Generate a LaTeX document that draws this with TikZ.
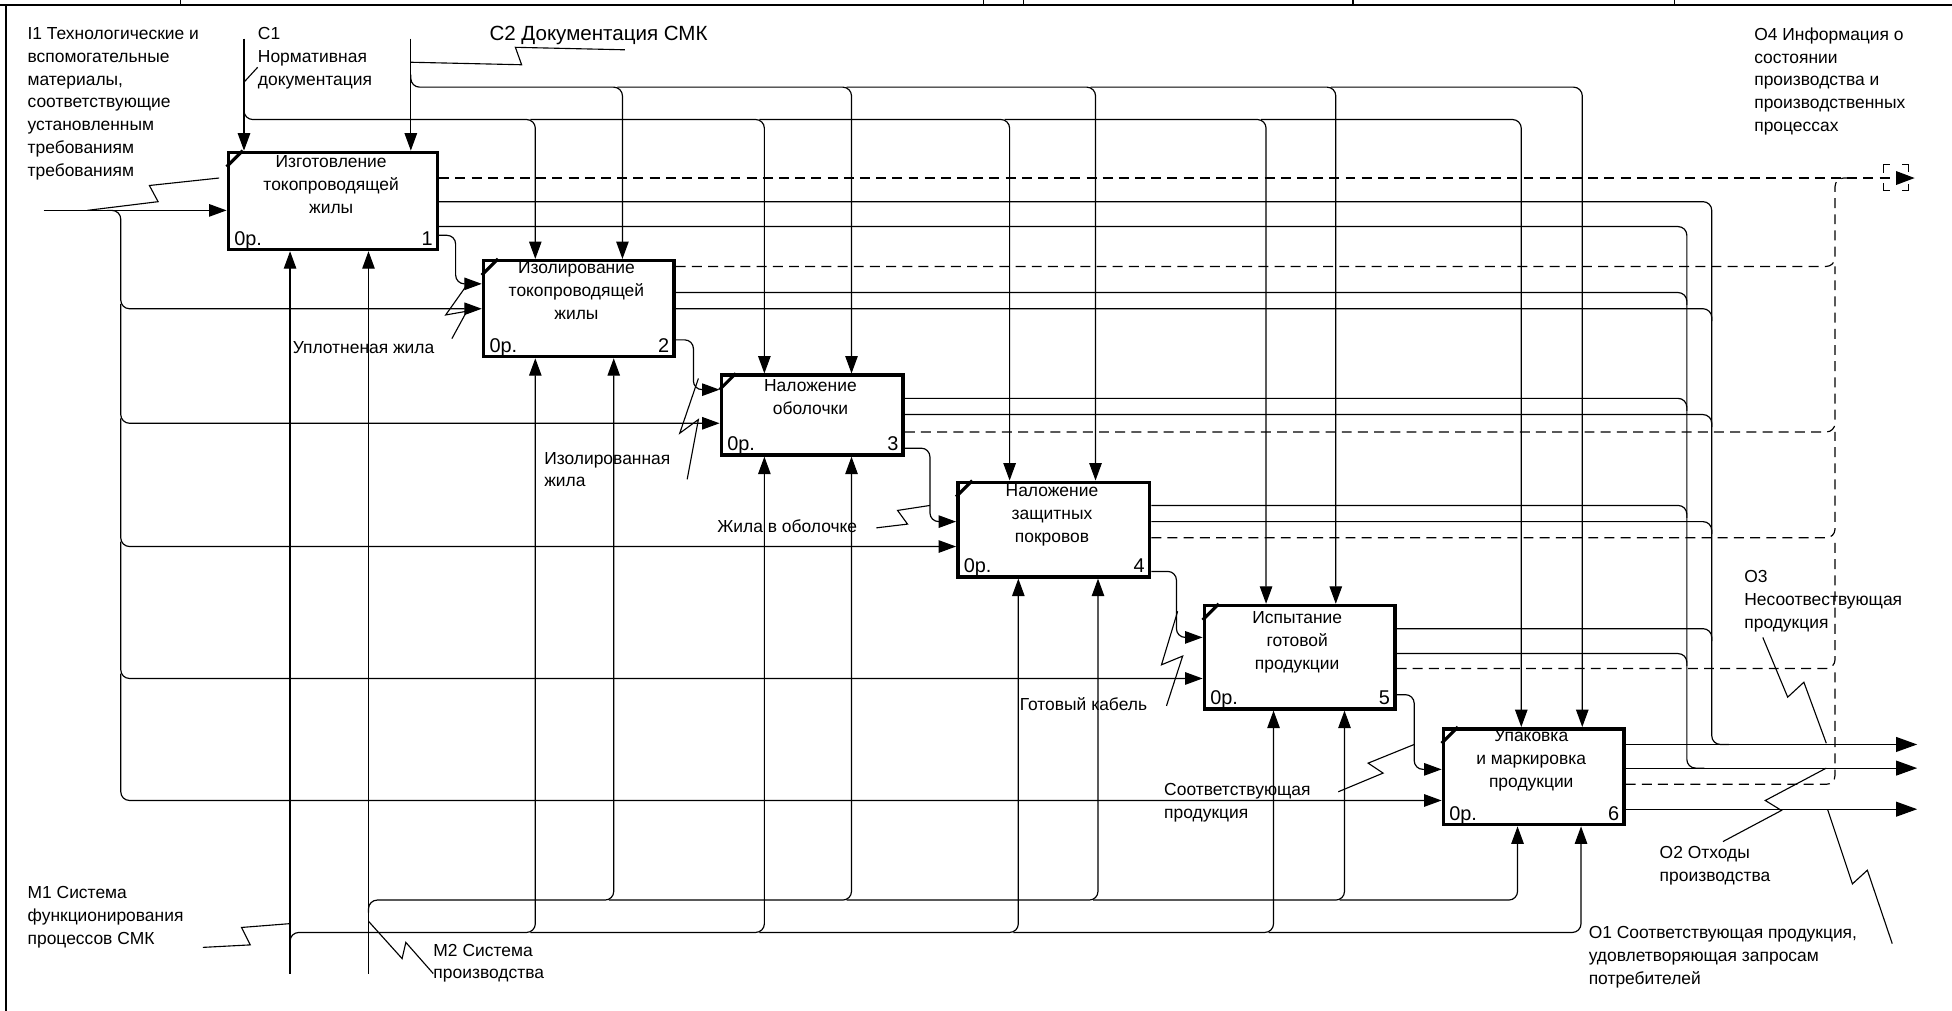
\documentclass[tikz,border=0pt]{standalone}
\usepackage{fontspec}
\setmainfont{Liberation Sans}
\usetikzlibrary{arrows.meta}
\tikzset{
  ln/.style={line width=0.95pt},
  arr/.style={ln,-{Triangle[length=14pt,width=10pt]}},
  arro/.style={ln,-{Triangle[length=17pt,width=12pt]}},
  dsh/.style={ln,dash pattern=on 8pt off 5pt},
  rc/.style={rounded corners=7pt},
  box/.style={draw,line width=2.8pt,inner sep=0,anchor=north west},
  txt/.style={font=\fontsize{14}{18.3}\selectfont,inner sep=0,align=left,anchor=north west},
  btxt/.style={font=\fontsize{14}{18.5}\selectfont,inner sep=0,align=center,anchor=north},
  num/.style={font=\fontsize{16}{18}\selectfont,inner sep=0},
  lead/.style={line width=0.9pt},
}
\begin{document}
\begin{tikzpicture}[x=1pt,y=-1pt]
\useasboundingbox (0,0) rectangle (1568,812);
% frame
\draw[line width=1.5pt] (0,4) -- (1568,4);
\draw[line width=1.5pt] (5,4) -- (5,812);
\foreach \x in {145,790,822,1087,1345} \draw[line width=1.2pt] (\x,0) -- (\x,4);

% boxes
\node[box,minimum width=168pt,minimum height=78pt] (b1) at (182,121) {};
\node[box,minimum width=153pt,minimum height=77pt] (b2) at (387,208) {};
\node[box,minimum width=146pt,minimum height=64pt] (b3) at (578,300) {};
\node[box,minimum width=154pt,minimum height=76pt] (b4) at (768,386) {};
\node[box,minimum width=153pt,minimum height=83pt] (b5) at (966,485) {};
\node[box,minimum width=145pt,minimum height=77pt] (b6) at (1158,584) {};
\foreach \b/\n in {b1/1,b2/2,b3/3,b4/4,b5/5,b6/6}{
  \draw[line width=2.5pt] ([yshift=-13pt]\b.north west) -- ([xshift=13pt]\b.north west);
  \node[num,anchor=base west] (\b o) at ([shift={(6pt,5pt)}]\b.south west) {0р.};
  \node[num,anchor=base east] (\b n) at ([shift={(-5pt,5pt)}]\b.south east) {\n};
}
\node[btxt] (t1) at (266,125) {Изготовление\\токопроводящей\\жилы};
\node[btxt] (t2) at (463,210) {Изолирование\\токопроводящей\\жилы};
\node[btxt] (t3) at (651,305) {Наложение\\оболочки};
\node[btxt] (t4) at (845,389) {Наложение\\защитных\\покровов};
\node[btxt] (t5) at (1042,491) {Испытание\\готовой\\продукции};
\node[btxt] (t6) at (1230,586) {Упаковка\\и маркировка\\продукции};

% labels
\node[txt] (li1) at (22,22) {I1 Технологические и\\вспомогательные\\материалы,\\соответствующие\\установленным\\требованиям\\требованиям};
\node[txt] (lc1) at (207,22) {C1\\Нормативная\\документация};
\node[txt,font=\fontsize{16.5}{20}\selectfont] (lc2) at (393,21) {С2 Документация СМК};
\node[txt] (lo4) at (1409,22) {O4 Информация о\\состоянии\\производства и\\производственных\\процессах};
\node[txt] (lo3) at (1401,458) {O3\\Несоотвествующая\\продукция};
\node[txt] (lo2) at (1333,680) {O2 Отходы\\производства};
\node[txt] (lo1) at (1276,744) {O1 Соответствующая продукция,\\удовлетворяющая запросам\\потребителей};
\node[txt] (lm1) at (22,712) {M1 Система\\функционирования\\процессов СМК};
\node[txt] (lm2) at (348,758) {M2 Система\\производства};
\node[txt] (la1) at (235,274) {Уплотненая жила};
\node[txt] (la2) at (437,363) {Изолированная\\жила};
\node[txt] (la3) at (576,417) {Жила в оболочке};
\node[txt] (la4) at (819,560) {Готовый кабель};
\node[txt] (la5) at (935,629) {Соответствующая\\продукция};

% leaders
\draw[lead] (176,143) -- (120,149) -- (127,162) -- (70,169);
\draw[lead] (196,66) -- (207,54);
\draw[lead] (330,50) -- (419,52) -- (414,38) -- (502,40);
\draw[lead] (363,272) -- (375,250) -- (358,253) -- (375,229);
\draw[lead] (552,385) -- (561,337) -- (546,348) -- (561,304);
\draw[lead] (704,424) -- (729,421) -- (721,410) -- (747,406);
\draw[lead] (937,567) -- (950,527) -- (933,534) -- (946,491);
\draw[lead] (1075,636) -- (1111,621) -- (1099,613) -- (1136,598);
\draw[lead] (1416,512) -- (1436,560) -- (1449,548) -- (1467,597);
\draw[lead] (1384,676) -- (1431,651) -- (1418,643) -- (1467,617);
\draw[lead] (1520,758) -- (1500,699) -- (1488,710) -- (1468,650);
\draw[lead] (163,761) -- (201,759) -- (194,745) -- (232,742);
\draw[lead] (296,740) -- (323,770) -- (326,757) -- (348,782);

% I1 inputs
\draw[arr] (35,169) -- (b1.west |- 0,169);
\draw[arr,rc] (86,169) -- (97,169) -- (97,248) -- (b2.west |- 0,248);
\draw[arr,rc] (97,244) -- (97,340) -- (b3.west |- 0,340);
\draw[arr,rc] (97,336) -- (97,439) -- (b4.west |- 0,439);
\draw[arr,rc] (97,435) -- (97,545) -- (b5.west |- 0,545);
\draw[arr,rc] (97,541) -- (97,643) -- (b6.west |- 0,643);

% box to box
\draw[arr,rc=6pt] (b1.east |- 0,189) -- (366,189) -- (366,228) -- (b2.west |- 0,228);
\draw[arr,rc] (b2.east |- 0,273) -- (557,273) -- (557,313) -- (b3.west |- 0,313);
\draw[arr,rc] (b3.east |- 0,360) -- (747,360) -- (747,419) -- (b4.west |- 0,419);
\draw[arr,rc] (b4.east |- 0,459) -- (945,459) -- (945,512) -- (b5.west |- 0,512);
\draw[arr,rc] (b5.east |- 0,558) -- (1136,558) -- (1136,618) -- (b6.west |- 0,618);

% controls
\draw[arr] (196,31) -- (b1.north -| 196,0);
\draw[arr] (330,31) -- (b1.north -| 330,0);
\draw[arr,rc] (196,86) -- (196,96) -- (430,96) -- (b2.north -| 430,0);
\draw[arr,rc] (426,96) -- (614,96) -- (b3.north -| 614,0);
\draw[arr,rc] (610,96) -- (811,96) -- (b4.north -| 811,0);
\draw[arr,rc] (807,96) -- (1017,96) -- (b5.north -| 1017,0);
\draw[arr,rc] (1013,96) -- (1222,96) -- (b6.north -| 1222,0);
\draw[arr,rc] (330,60) -- (330,70) -- (500,70) -- (b2.north -| 500,0);
\draw[arr,rc] (496,70) -- (684,70) -- (b3.north -| 684,0);
\draw[arr,rc] (680,70) -- (880,70) -- (b4.north -| 880,0);
\draw[arr,rc] (876,70) -- (1073,70) -- (b5.north -| 1073,0);
\draw[arr,rc] (1069,70) -- (1271,70) -- (b6.north -| 1271,0);

% mechanisms
\draw[arr] (233,782) -- (b1.south -| 233,0);
\draw[arr] (296,782) -- (b1.south -| 296,0);
\draw[arr,rc] (233,759) -- (233,749) -- (430,749) -- (b2.south -| 430,0);
\draw[arr,rc] (426,749) -- (614,749) -- (b3.south -| 614,0);
\draw[arr,rc] (610,749) -- (818,749) -- (b4.south -| 818,0);
\draw[arr,rc] (814,749) -- (1023,749) -- (b5.south -| 1023,0);
\draw[arr,rc] (1019,749) -- (1270,749) -- (b6.south -| 1270,0);
\draw[arr,rc] (296,733) -- (296,723) -- (493,723) -- (b2.south -| 493,0);
\draw[arr,rc] (489,723) -- (684,723) -- (b3.south -| 684,0);
\draw[arr,rc] (680,723) -- (882,723) -- (b4.south -| 882,0);
\draw[arr,rc] (878,723) -- (1080,723) -- (b5.south -| 1080,0);
\draw[arr,rc] (1076,723) -- (1219,723) -- (b6.south -| 1219,0);

% O4 dashed outputs
\draw[dsh,-{Triangle[length=15pt,width=11pt]}] (b1.east |- 0,143) -- (1538,143);
\draw[ln] (1518,132) -- (1513,132) -- (1513,139);
\draw[ln] (1513,147) -- (1513,153) -- (1518,153);
\draw[ln] (1528,132) -- (1533,132) -- (1533,138);
\draw[ln] (1533,148) -- (1533,153) -- (1528,153);
\draw[dsh,rc] (b2.east |- 0,214) -- (1474,214) -- (1474,143) -- (1486,143);
\draw[dsh,rc] (b3.east |- 0,347) -- (1474,347) -- (1474,214);
\draw[dsh,rc] (b4.east |- 0,432) -- (1474,432) -- (1474,347);
\draw[dsh,rc] (b5.east |- 0,537) -- (1474,537) -- (1474,432);
\draw[dsh,rc] (b6.east |- 0,630) -- (1474,630) -- (1474,537);

% solid outputs merging, column 1355 -> 617
\draw[ln,rc] (b1.east |- 0,182) -- (1355,182) -- (1355,245);
\draw[ln,rc] (b2.east |- 0,235) -- (1355,235) -- (1355,330);
\draw[ln,rc] (b3.east |- 0,320) -- (1355,320) -- (1355,416);
\draw[ln,rc] (b4.east |- 0,406) -- (1355,406) -- (1355,535);
\draw[ln,rc] (b5.east |- 0,525) -- (1355,525) -- (1355,617) -- (1369,617);
% column 1375 -> 598
\draw[ln,rc] (b1.east |- 0,162) -- (1375,162) -- (1375,258);
\draw[ln,rc] (b2.east |- 0,248) -- (1375,248) -- (1375,343);
\draw[ln,rc] (b3.east |- 0,333) -- (1375,333) -- (1375,429);
\draw[ln,rc] (b4.east |- 0,419) -- (1375,419) -- (1375,515);
\draw[ln,rc] (b5.east |- 0,505) -- (1375,505) -- (1375,598) -- (1389,598);
\draw[arro] (b6.east |- 0,598) -- (1540,598);
\draw[arro] (b6.east |- 0,617) -- (1540,617);
\draw[arro] (b6.east |- 0,650) -- (1540,650);
\end{tikzpicture}
\end{document}
